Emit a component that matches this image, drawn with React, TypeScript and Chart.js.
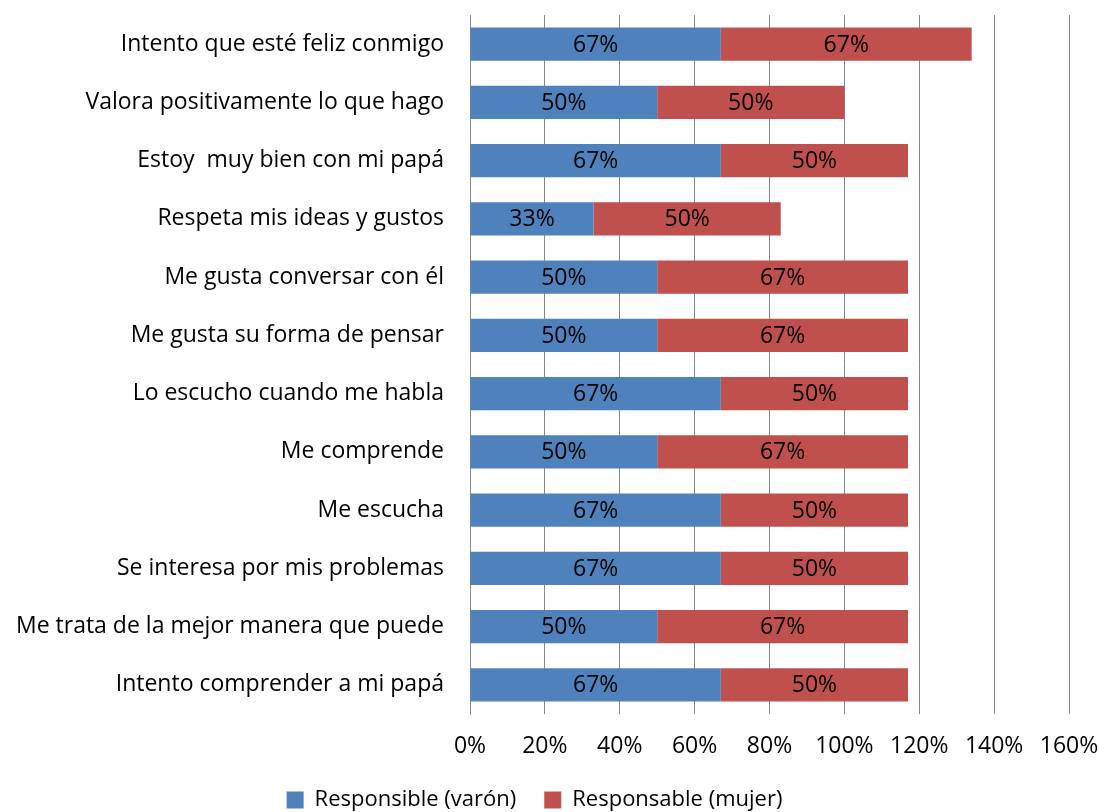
import React, { useEffect, useRef } from "react";
import { Chart, registerables } from "chart.js";

Chart.register(...registerables);

const categories: string[] = [
  "Intento que esté feliz conmigo",
  "Valora positivamente lo que hago",
  "Estoy  muy bien con mi papá",
  "Respeta mis ideas y gustos",
  "Me gusta conversar con él",
  "Me gusta su forma de pensar",
  "Lo escucho cuando me habla",
  "Me comprende",
  "Me escucha",
  "Se interesa por mis problemas",
  "Me trata de la mejor manera que puede",
  "Intento comprender a mi papá",
];

const varonValues: number[] = [67, 50, 67, 33, 50, 50, 67, 50, 67, 67, 50, 67];
const mujerValues: number[] = [67, 50, 50, 50, 67, 67, 50, 67, 50, 50, 67, 50];

const seriesNames: string[] = ["Responsible (varón)", "Responsable (mujer)"];
const xTickMin = 0;
const xTickMax = 160;
const xTickStep = 20;

const FONT = "'Open Sans', sans-serif";
const FSIZE = 23;

const dataLabelPlugin = {
  id: "barValueLabels",
  afterDatasetsDraw(chart: any) {
    const ctx = chart.ctx;
    ctx.save();
    ctx.font = `${FSIZE}px ${FONT}`;
    ctx.fillStyle = "#000";
    ctx.textAlign = "center";
    ctx.textBaseline = "middle";
    chart.data.datasets.forEach((ds: any, di: number) => {
      const meta = chart.getDatasetMeta(di);
      meta.data.forEach((el: any, i: number) => {
        const v = ds.data[i];
        const cx = (el.x + el.base) / 2;
        ctx.fillText(`${Math.round(v)}%`, cx, el.y + 1);
      });
    });
    ctx.restore();
  },
};

export default function App() {
  const ref = useRef<HTMLCanvasElement | null>(null);

  useEffect(() => {
    if (!ref.current) return;
    const chart = new Chart(ref.current, {
      type: "bar",
      data: {
        labels: categories,
        datasets: [
          {
            label: seriesNames[0],
            data: varonValues,
            backgroundColor: "#4F81BD",
            barPercentage: 0.57,
            categoryPercentage: 1,
          },
          {
            label: seriesNames[1],
            data: mujerValues,
            backgroundColor: "#C0504D",
            barPercentage: 0.57,
            categoryPercentage: 1,
          },
        ],
      },
      options: {
        indexAxis: "y",
        responsive: false,
        animation: false,
        devicePixelRatio: 1,
        layout: { padding: { top: 15, right: 30, left: 0, bottom: 9 } },
        plugins: {
          legend: {
            position: "bottom",
            labels: {
              boxWidth: 17,
              boxHeight: 17,
              padding: 28,
              color: "#000",
              font: { family: FONT, size: 22 },
            },
          },
          tooltip: { enabled: false },
        },
        scales: {
          x: {
            stacked: true,
            min: xTickMin,
            max: xTickMax,
            ticks: {
              stepSize: xTickStep,
              color: "#000",
              padding: 19,
              font: { family: FONT, size: FSIZE },
              callback: (v: any) => `${v}%`,
            },
            grid: { color: "#888888", lineWidth: 1, drawTicks: false },
            border: { display: false },
            afterFit: (scale: any) => {
              scale.height = 47;
              scale.paddingLeft = 0;
              scale.paddingRight = 0;
            },
          },
          y: {
            stacked: true,
            ticks: {
              color: "#000",
              padding: 26,
              font: { family: FONT, size: FSIZE },
            },
            grid: { display: false, drawTicks: false },
            border: { display: true, color: "#888888" },
            afterFit: (scale: any) => {
              scale.width = 470;
              scale.paddingTop = 0;
              scale.paddingBottom = 0;
            },
          },
        },
      },
      plugins: [dataLabelPlugin],
    });
    return () => chart.destroy();
  }, []);

  return (
    <div style={{ position: "absolute", left: 0, top: 0, width: 1099, height: 812, overflow: "hidden", background: "#fff" }}>
      <canvas ref={ref} width={1099} height={830} style={{ width: 1099, height: 830, display: "block" }} />
    </div>
  );
}
